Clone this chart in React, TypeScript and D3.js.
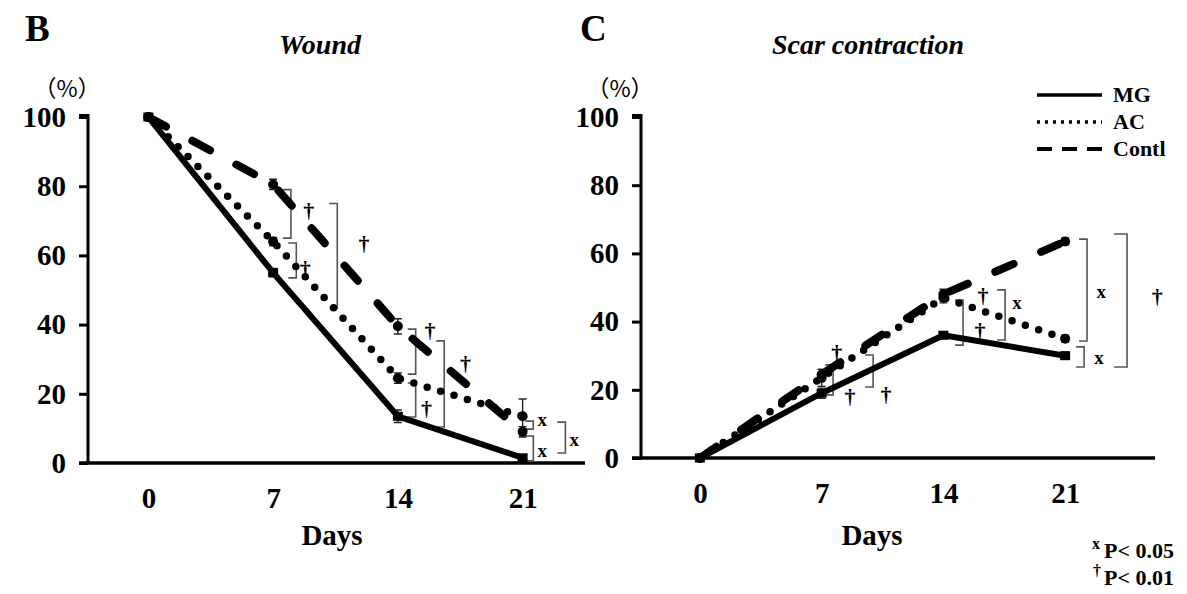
import * as d3 from "d3";
import { useEffect, useRef } from "react";

const W = 1187;
const H = 594;

const days = [0, 7, 14, 21];
const yTicks = [0, 20, 40, 60, 80, 100];
const seriesNames = ["MG", "AC", "Contl"];

// Wound (%)
const woundMG = [100, 55, 13.5, 1.5];
const woundAC = [100, 64, 24.5, 13.5];
const woundContl = [100, 80.5, 39.5, 9];
const woundErrMG = [0, 1.2, 1.8, 0.8];
const woundErrAC = [0, 1.2, 1.5, 5];
const woundErrContl = [0, 1.5, 2.2, 1.5];

// Scar contraction (%)
const scarMG = [0, 19, 36, 30];
const scarAC = [0, 23.5, 47, 35];
const scarContl = [0, 24.5, 48, 63.5];
const scarErrMG = [0, 1.5, 1, 1];
const scarErrAC = [0, 2.5, 1.5, 1];
const scarErrContl = [0, 1.5, 1.5, 1];

// significance brackets: [day, from %, to %]
const woundBrackets = [
  [8.0, 79, 65], [8.3, 63.6, 53.5], [10.6, 75, 44.8],
  [15.0, 38.7, 25.7], [15.0, 23.1, 13.3], [16.6, 35.3, 10.4],
  [21.6, 12.1, 9.8], [21.6, 7.8, 0.6], [23.4, 11.8, 2.9],
];
// significance marks: [symbol, day, %]
const woundMarks = [
  ["†", 9.0, 73], ["†", 8.8, 56.4], ["†", 12.1, 63.6],
  ["†", 15.8, 38.4], ["†", 15.6, 15.9], ["†", 17.8, 28.9],
  ["x", 22.1, 12.7], ["x", 22.1, 3.8], ["x", 23.9, 6.9],
];
const scarBrackets = [
  [7.66, 27.3, 18.5], [9.96, 30.2, 20.8], [15.13, 46.3, 33.1],
  [17.55, 49.3, 34.6], [22.26, 64.2, 34.3], [22.09, 32.6, 26.7],
  [24.56, 65.7, 26.7],
];
const scarMarks = [
  ["†", 7.87, 31.1], ["†", 8.63, 18.2], ["†", 10.7, 18.8],
  ["†", 16.28, 47.8], ["†", 16.1, 37.5], ["x", 18.24, 45.7],
  ["x", 23.07, 49], ["x", 22.95, 29.6], ["†", 26.3, 47.5],
];

const serif = "'Liberation Serif', 'Times New Roman', serif";

const styles = [
  { width: 6, dash: null, cap: "butt" },
  { width: 7.5, dash: "0 14", cap: "round" },
  { width: 8, dash: "20 30", cap: "round" },
];

type Panel = {
  letter: string;
  title: string;
  series: number[][];
  errs: number[][];
  brackets: number[][];
  marks: (string | number)[][];
  xr: [number, number];
  axisEnd: number;
  yr: [number, number];
  lx: number;
  tx: number;
  dx: number;
};

const panels: Panel[] = [
  {
    letter: "B", title: "Wound",
    series: [woundMG, woundAC, woundContl],
    errs: [woundErrMG, woundErrAC, woundErrContl],
    brackets: woundBrackets, marks: woundMarks,
    xr: [86, 585], axisEnd: 585, yr: [463, 117], lx: 25, tx: 320, dx: 332,
  },
  {
    letter: "C", title: "Scar contraction",
    series: [scarMG, scarAC, scarContl],
    errs: [scarErrMG, scarErrAC, scarErrContl],
    brackets: scarBrackets, marks: scarMarks,
    xr: [639, 1126], axisEnd: 1155, yr: [458, 117], lx: 580, tx: 868, dx: 872,
  },
];

const App = () => {
  const ref = useRef<SVGSVGElement>(null);

  useEffect(() => {
    const svg = d3.select(ref.current);
    svg.selectAll("*").remove();
    svg.append("rect").attr("width", W).attr("height", H).attr("fill", "#fff");

    panels.forEach((p) => {
      const x = d3.scaleLinear().domain([-3.5, 24.5]).range(p.xr);
      const y = d3.scaleLinear().domain([0, 100]).range(p.yr);
      const g = svg.append("g");

      g.append("text").attr("x", p.lx).attr("y", 41)
        .attr("font-family", serif).attr("font-weight", "bold").attr("font-size", 37)
        .text(p.letter);
      g.append("text").attr("x", p.tx).attr("y", 54).attr("text-anchor", "middle")
        .attr("font-family", serif).attr("font-weight", "bold").attr("font-style", "italic")
        .attr("font-size", 28).text(p.title);
      g.append("text").attr("x", p.xr[0] - 19).attr("y", 97).attr("text-anchor", "middle")
        .attr("font-family", "'Noto Sans CJK JP', sans-serif").attr("font-size", 23)
        .text("（%）");

      // y axis
      const yAxis = g.append("g").attr("transform", `translate(${p.xr[0] + 2},0)`)
        .call(d3.axisLeft(y).tickValues(yTicks).tickSize(9).tickPadding(13));
      yAxis.select(".domain").attr("stroke-width", 3).attr("d", `M0,${p.yr[0]}V${p.yr[1] - 1.5}H-9`);
      yAxis.selectAll(".tick line").attr("stroke-width", 3);
      yAxis.selectAll("text").attr("font-family", serif).attr("font-weight", "bold")
        .attr("font-size", 29).attr("fill", "#000");

      // x axis
      const xAxis = g.append("g").attr("transform", `translate(0,${p.yr[0]})`)
        .call(d3.axisBottom(x).tickValues(days).tickSize(0).tickPadding(24));
      xAxis.select(".domain").attr("stroke-width", 3.5)
        .attr("d", `M${p.xr[0] - 7},0H${p.axisEnd}`);
      xAxis.selectAll("text").attr("font-family", serif).attr("font-weight", "bold")
        .attr("font-size", 29).attr("fill", "#000");

      g.append("text").attr("x", p.dx).attr("y", 545).attr("text-anchor", "middle")
        .attr("font-family", serif).attr("font-weight", "bold").attr("font-size", 29)
        .text("Days");

      // brackets
      p.brackets.forEach(([d, a, b], i) => {
        const bx = x(d);
        const arm = p.letter === "C" && i === p.brackets.length - 1 ? 13 : 8;
        g.append("path")
          .attr("d", `M${bx - arm},${y(a)}H${bx}V${y(b)}H${bx - arm}`)
          .attr("fill", "none").attr("stroke", "#555").attr("stroke-width", 1.6);
      });

      // series
      const line = d3.line<number>().x((_, i) => x(days[i])).y((v) => y(v));
      [2, 1, 0].forEach((si) => {
        const s = styles[si];
        const path = g.append("path").attr("d", line(p.series[si]))
          .attr("fill", "none").attr("stroke", "#000")
          .attr("stroke-width", s.width).attr("stroke-linecap", s.cap)
          .attr("stroke-linejoin", "round");
        if (s.dash) path.attr("stroke-dasharray", s.dash);
      });

      // error bars + markers
      p.series.forEach((vals, si) => {
        vals.forEach((v, i) => {
          const e = p.errs[si][i];
          const cx = x(days[i]);
          if (e > 0) {
            g.append("path")
              .attr("d", `M${cx},${y(v - e)}V${y(v + e)}M${cx - 4},${y(v + e)}h8M${cx - 4},${y(v - e)}h8`)
              .attr("stroke", "#222").attr("stroke-width", 1.4).attr("fill", "none");
          }
          if (si === 0) {
            g.append("rect").attr("x", cx - 5).attr("y", y(v) - 4.5).attr("width", 10).attr("height", 9)
              .attr("fill", "#000");
          } else {
            g.append("circle").attr("cx", cx).attr("cy", y(v)).attr("r", 5).attr("fill", "#000");
          }
        });
      });

      // marks
      p.marks.forEach(([sym, d, v]) => {
        g.append("text").attr("x", x(d as number)).attr("y", y(v as number))
          .attr("dy", "0.35em").attr("text-anchor", "middle")
          .attr("font-family", serif).attr("font-weight", "bold")
          .attr("font-size", sym === "x" ? 19 : 22).text(sym as string);
      });
    });

    // legend
    const leg = svg.append("g");
    const legY = [95, 122, 149];
    seriesNames.forEach((name, i) => {
      const l = leg.append("line").attr("x1", 1037).attr("x2", 1102)
        .attr("y1", legY[i]).attr("y2", legY[i]).attr("stroke", "#000");
      if (i === 0) l.attr("stroke-width", 3.5);
      if (i === 1) l.attr("stroke-width", 3.5).attr("stroke-dasharray", "3 5");
      if (i === 2) l.attr("stroke-width", 4).attr("stroke-dasharray", "15 10");
      leg.append("text").attr("x", 1113).attr("y", legY[i] + 7)
        .attr("font-family", serif).attr("font-weight", "bold").attr("font-size", 22)
        .text(name);
    });

    // footnote
    const fn = svg.append("g").attr("font-family", serif).attr("font-weight", "bold");
    fn.append("text").attr("x", 1096).attr("y", 549).attr("text-anchor", "middle")
      .attr("font-size", 16).text("x");
    fn.append("text").attr("x", 1104).attr("y", 558).attr("font-size", 22).text("P< 0.05");
    fn.append("text").attr("x", 1097).attr("y", 576).attr("text-anchor", "middle")
      .attr("font-size", 16).text("†");
    fn.append("text").attr("x", 1104).attr("y", 585).attr("font-size", 22).text("P< 0.01");
  }, []);

  return (
    <svg ref={ref} width={W} height={H}
      style={{ position: "absolute", left: 0, top: 0, display: "block" }} />
  );
};

export default App;
